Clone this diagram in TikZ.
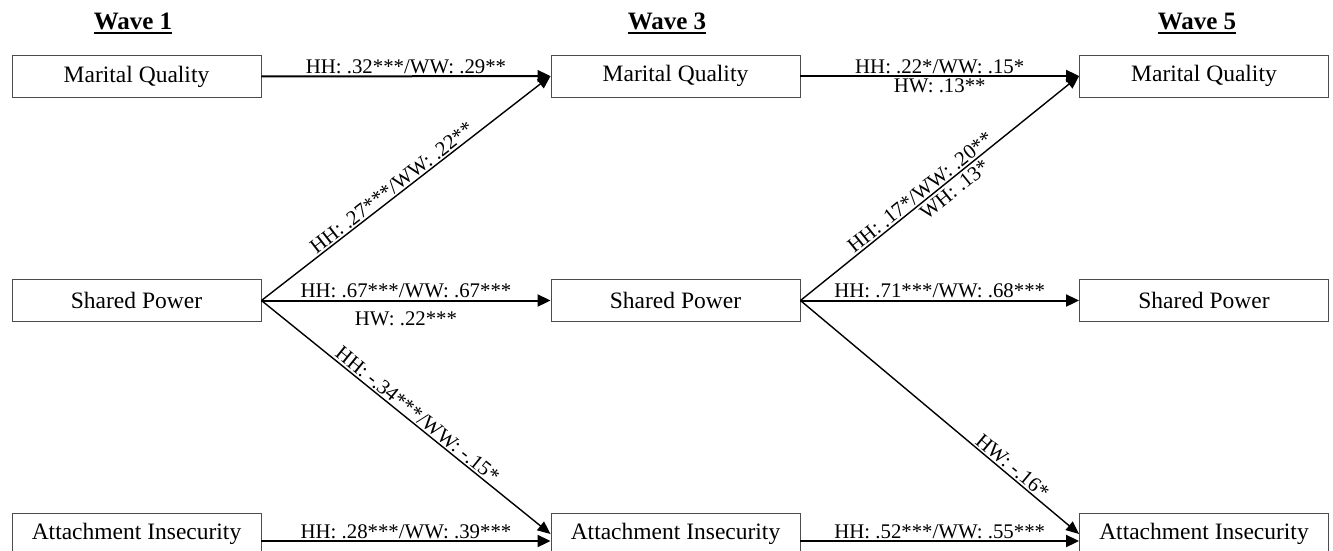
\documentclass[tikz,border=0pt]{standalone}
\usepackage{fontspec}
\setmainfont{Liberation Serif}
\usetikzlibrary{arrows.meta}
\begin{document}
\begin{tikzpicture}[x=1pt,y=-1pt,
  box/.style={draw=black!70, line width=0.9pt, minimum width=249pt, minimum height=42pt, inner sep=0pt, font=\fontsize{23.5}{26}\selectfont},
  lbl/.style={font=\fontsize{20.8}{23}\selectfont, inner sep=1.5pt},
  ttl/.style={font=\fontsize{25}{28}\selectfont\bfseries, inner sep=0pt, anchor=base},
  uline/.style={line width=1.8pt},
  harr/.style={line width=2pt, -{Triangle[length=13pt,width=12pt]}},
  darr/.style={line width=1.4pt, -{Triangle[length=13pt,width=11pt]}}]
\useasboundingbox (0,0) rectangle (1333,550);
% titles
\node[ttl] (w1) at (133,29) {Wave 1};
\node[ttl] (w3) at (667,29) {Wave 3};
\node[ttl] (w5) at (1197,29) {Wave 5};
\draw[uline] ([yshift=-4pt]w1.base west) -- ([yshift=-4pt]w1.base east);
\draw[uline] ([yshift=-4pt]w3.base west) -- ([yshift=-4pt]w3.base east);
\draw[uline] ([yshift=-4pt]w5.base west) -- ([yshift=-4pt]w5.base east);
% boxes
\node[box] (m1) at (136.5,76.5) {Marital Quality};
\node[box] (m2) at (675.5,76) {Marital Quality};
\node[box] (m3) at (1204,76) {Marital Quality};
\node[box] (s1) at (136.5,300.5) {Shared Power};
\node[box] (s2) at (675.5,300.5) {Shared Power};
\node[box] (s3) at (1204,300.5) {Shared Power};
\node[box] (a1) at (136.5,534) {Attachment Insecurity};
\node[box] (a2) at (675.5,534) {Attachment Insecurity};
\node[box] (a3) at (1204,534) {Attachment Insecurity};
% wave 1 -> wave 3
\draw[harr] (m1) -- (m2) node[lbl, midway, above] {HH: .32***/WW: .29**};
\draw[darr] (s1.east) -- (m2.west) node[lbl, pos=0.47, above, sloped] {HH: .27***/WW: .22**};
\draw[harr] (s1) -- (s2) node[lbl, midway, above] {HH: .67***/WW: .67***}
  node[lbl, midway, below, yshift=-9pt] {HW: .22***};
\draw[darr] (s1.east) -- (a2.west) node[lbl, pos=0.52, above, sloped] {HH: -.34***/WW: -.15*};
\draw[harr] ([yshift=-7pt]a1.east) -- ([yshift=-7pt]a2.west) node[lbl, midway, above] {HH: .28***/WW: .39***};
% wave 3 -> wave 5
\draw[harr] (m2) -- (m3) node[lbl, midway, above] {HH: .22*/WW: .15*}
  node[lbl, midway, below] {HW: .13**};
\draw[darr] (s2.east) -- (m3.west) node[lbl, pos=0.45, above, sloped] {HH: .17*/WW: .20**}
  node[lbl, pos=0.53, below, sloped, inner sep=2.5pt] {WH: .13*};
\draw[harr] (s2) -- (s3) node[lbl, midway, above] {HH: .71***/WW: .68***};
\draw[darr] (s2.east) -- (a3.west) node[lbl, pos=0.74, above, sloped] {HW: -.16*};
\draw[harr] ([yshift=-7pt]a2.east) -- ([yshift=-7pt]a3.west) node[lbl, midway, above] {HH: .52***/WW: .55***};
\end{tikzpicture}
\end{document}
